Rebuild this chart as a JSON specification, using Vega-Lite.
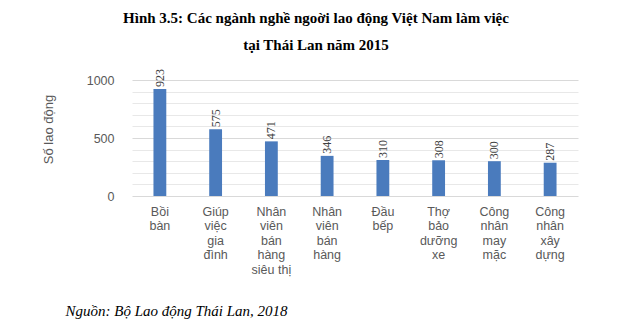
{
  "$schema": "https://vega.github.io/schema/vega-lite/v6.json",
  "autosize": "none",
  "width": 446,
  "height": 116,
  "padding": {"left": 132, "top": 80, "right": 55, "bottom": 138},
  "background": "white",
  "title": {
    "text": ["Hình 3.5: Các ngành nghề ngoời lao động Việt Nam làm việc", "tại Thái Lan năm 2015"],
    "font": "Liberation Serif",
    "fontSize": 15,
    "fontWeight": "bold",
    "color": "#000000",
    "lineHeight": 27,
    "anchor": "middle",
    "frame": "group",
    "dx": -39,
    "offset": 16
  },
  "data": {
    "values": [
      {"nganh": "Bồi bàn", "so": 923},
      {"nganh": "Giúp việc gia đình", "so": 575},
      {"nganh": "Nhân viên bán hàng siêu thị", "so": 471},
      {"nganh": "Nhân viên bán hàng", "so": 346},
      {"nganh": "Đầu bếp", "so": 310},
      {"nganh": "Thợ bảo dưỡng xe", "so": 308},
      {"nganh": "Công nhân may mặc", "so": 300},
      {"nganh": "Công nhân xây dựng", "so": 287}
    ]
  },
  "encoding": {
    "x": {
      "field": "nganh",
      "type": "nominal",
      "sort": null,
      "scale": {"paddingInner": 0.77, "paddingOuter": 0.385},
      "axis": {
        "title": "Nguồn: Bộ Lao động Thái Lan, 2018",
        "titleFont": "Liberation Serif",
        "titleFontStyle": "italic",
        "titleFontWeight": "normal",
        "titleFontSize": 15,
        "titleColor": "#000000",
        "titleAnchor": "start",
        "titleAlign": "left",
        "titleBaseline": "middle",
        "titleX": -67,
        "titleY": 114,
        "labelAngle": 0,
        "labelExpr": "split(replace(datum.value, 'siêu thị', 'siêu\u00a0thị'), ' ')",
        "labelFont": "Liberation Sans",
        "labelFontSize": 12.5,
        "labelColor": "#595959",
        "labelLineHeight": 14.5,
        "labelPadding": 9,
        "labelBaseline": "top",
        "ticks": false,
        "domain": false,
        "grid": false
      }
    },
    "y": {
      "field": "so",
      "type": "quantitative",
      "scale": {"domain": [0, 1000], "nice": false},
      "axis": {
        "title": "Số lao động",
        "titleFont": "Liberation Sans",
        "titleFontSize": 13,
        "titleFontWeight": "normal",
        "titleColor": "#595959",
        "titleAnchor": "middle",
        "titleY": 49,
        "titlePadding": 31,
        "values": [0, 100, 200, 300, 400, 500, 600, 700, 800, 900, 1000],
        "format": "d",
        "labelExpr": "datum.value % 500 === 0 ? datum.label : ''",
        "labelFont": "Liberation Sans",
        "labelFontSize": 12.5,
        "labelColor": "#595959",
        "labelPadding": 18,
        "ticks": false,
        "domain": false,
        "grid": true,
        "gridColor": {"condition": {"test": "datum.value % 500 === 0", "value": "#d9d9d9"}, "value": "#e8e8e8"},
        "gridWidth": 1
      }
    }
  },
  "layer": [
    {
      "mark": {"type": "bar", "color": "#4a7bbd"}
    },
    {
      "mark": {
        "type": "text",
        "angle": 270,
        "align": "left",
        "baseline": "middle",
        "dx": 2,
        "font": "Liberation Sans Narrow",
        "fontSize": 12,
        "color": "#404040"
      },
      "encoding": {"text": {"field": "so", "type": "quantitative"}}
    }
  ],
  "config": {"view": {"stroke": null}}
}
